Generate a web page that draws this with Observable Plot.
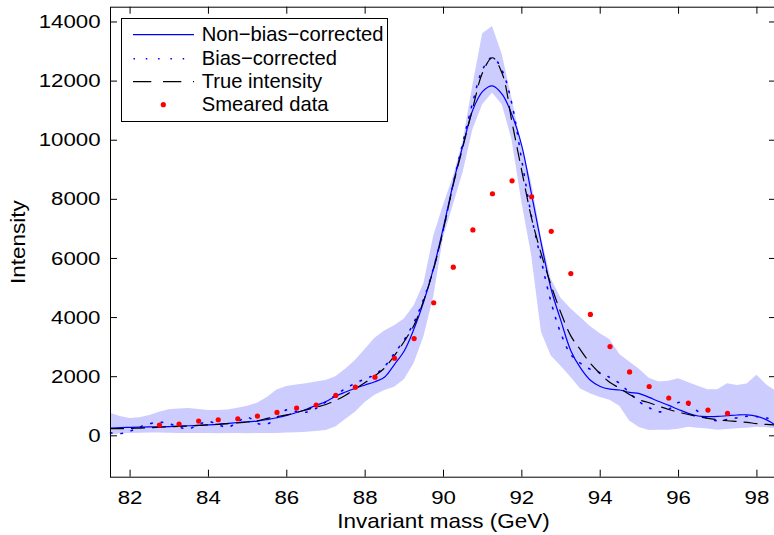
<!DOCTYPE html>
<html>
<head>
<meta charset="utf-8">
<script src="https://cdn.jsdelivr.net/npm/d3@7"></script>
<script src="https://cdn.jsdelivr.net/npm/@observablehq/plot@0.6"></script>
<style>
  html, body { margin: 0; padding: 0; background: #fff; }
  #wrap { position: relative; width: 774px; height: 535px; overflow: hidden; font-family: "Liberation Sans", Arial, Helvetica, sans-serif; }
  #legend { position: absolute; left: 121px; top: 18px; width: 265px; height: 98px; border: 1px solid #000; background: #fff; padding-top: 4.3px; box-sizing: content-box; }
  .row { display: flex; align-items: center; height: 23.33px; }
  .row svg { margin-left: 11px; flex: none; }
  .row span { margin-left: 7.7px; font-size: 20.2px; line-height: 23px; color: #000; white-space: nowrap; }
</style>
</head>
<body>
<div id="wrap">
  <div id="chart"></div>
  <div id="legend"></div>
</div>
<script>
// ---------------- data ----------------
const mass = [81.5,81.75,82,82.25,82.5,82.75,83,83.25,83.5,83.75,84,84.25,84.5,84.75,85,85.25,85.5,85.75,86,86.25,86.5,86.75,87,87.25,87.5,87.75,88,88.25,88.5,88.75,89,89.25,89.5,89.75,90,90.25,90.5,90.75,91,91.25,91.5,91.75,92,92.25,92.5,92.75,93,93.25,93.5,93.75,94,94.25,94.5,94.75,95,95.25,95.5,95.75,96,96.25,96.5,96.75,97,97.25,97.5,97.75,98,98.25,98.5];

const nonBiasCorrected = [264,275,285,292,300,305,312,325,340,355,370,390,420,450,475,500,550,610,690,790,900,1030,1160,1340,1480,1610,1720,1830,1990,2420,2880,3630,4560,5690,7070,8550,9850,11030,11650,11840,11550,10850,9800,8150,6480,4950,3880,2880,2290,1880,1670,1580,1550,1470,1430,1300,1160,1030,890,760,670,650,655,680,705,710,660,540,340];

const biasCorrected = [100,75,160,300,410,460,410,290,240,380,490,370,290,480,630,420,400,620,880,820,800,930,1150,1380,1600,1780,1930,2070,2350,2800,3250,3850,4650,5700,7000,8550,9950,11300,12400,12800,12350,11200,9300,7400,5900,4500,3450,2750,2450,2250,2130,1970,1770,1450,1150,950,810,900,1130,1050,820,580,510,560,610,660,650,600,520];

const trueIntensity = [240,245,250,262,275,290,305,320,335,352,370,390,412,438,468,505,590,650,710,790,880,970,1060,1200,1370,1590,1800,2030,2300,2720,3200,3750,4600,5650,7000,8500,9800,11100,12300,12790,12250,10600,8950,7350,6130,5080,4150,3380,2900,2450,2100,1800,1610,1400,1220,1120,1000,890,800,720,650,590,545,510,485,455,412,385,365];

const bandLower = [30,70,80,90,95,95,90,80,75,75,75,70,75,75,70,75,75,80,95,105,120,150,180,300,550,800,1130,1370,1530,1640,1900,2450,3350,4700,6700,7800,8900,10350,11200,11600,11200,10000,7900,6100,3500,2700,2350,1980,1580,1420,1300,1200,1000,500,280,180,190,185,220,290,260,230,190,210,240,260,290,270,240];

const bandUpper = [760,650,590,610,690,800,880,910,920,890,860,860,870,930,1000,1100,1300,1550,1670,1720,1760,1820,1870,2000,2250,2550,2920,3300,3550,3720,3950,4400,5150,6750,7800,8750,9950,11850,13600,13850,12900,11400,9800,8550,6700,5300,4650,4300,4000,3700,3450,3250,2750,2500,2250,1950,1820,1850,1930,1800,1680,1560,1560,1760,1700,1750,2050,1720,1500];

const smearedMass = [82.75,83.25,83.75,84.25,84.75,85.25,85.75,86.25,86.75,87.25,87.75,88.25,88.75,89.25,89.75,90.25,90.75,91.25,91.75,92.25,92.75,93.25,93.75,94.25,94.75,95.25,95.75,96.25,96.75,97.25];
const smearedData = [364,398,499,543,577,668,792,938,1039,1366,1646,1983,2624,3290,4502,5704,6964,8189,8627,8088,6918,5490,4108,3018,2160,1669,1280,1106,870,760];

const xTicks = [82,84,86,88,90,92,94,96,98];
const yTicks = [0,2000,4000,6000,8000,10000,12000,14000];

const seriesNames = ["Non\u2212bias\u2212corrected","Bias\u2212corrected","True intensity","Smeared data"];
const xLabel = "Invariant mass (GeV)";
const yLabel = "Intensity";

// ---------------- tables ----------------
const curves = mass.map((m, i) => ({
  mass: m, nonBias: nonBiasCorrected[i], bias: biasCorrected[i],
  truth: trueIntensity[i], lo: bandLower[i], hi: bandUpper[i]
}));
const smeared = smearedMass.map((m, i) => ({mass: m, value: smearedData[i]}));

// ---------------- layout ----------------
const W = 774, H = 535;
const mL = 110, mR = -2, mT = 6.7, mB = 58.3;
const innerW = W - mL - mR, innerH = H - mT - mB;
const tick = 7;
const font = "'Liberation Sans', Arial, Helvetica, sans-serif";

const chart = Plot.plot({
  width: W, height: H,
  marginLeft: mL, marginRight: mR, marginTop: mT, marginBottom: mB,
  style: {fontFamily: font, fontSize: "19px", color: "#000", background: "transparent", overflow: "visible"},
  x: {domain: [81.5, 98.5]},
  y: {domain: [-1400, 14500]},
  marks: [
    Plot.areaY(curves, {x: "mass", y1: "lo", y2: "hi", fill: "rgb(204,204,255)", fillOpacity: 1}),
    Plot.line(curves, {x: "mass", y: "nonBias", stroke: "#0000ff", strokeWidth: 1.2, curve: "catmull-rom"}),
    Plot.line(curves, {x: "mass", y: "bias", stroke: "#0000ff", strokeWidth: 1.6, strokeDasharray: "1.5,9", curve: "catmull-rom"}),
    Plot.line(curves, {x: "mass", y: "truth", stroke: "#000", strokeWidth: 1.2, strokeDasharray: "13,8", curve: "catmull-rom"}),
    Plot.dot(smeared, {x: "mass", y: "value", r: 2.6, fill: "#ff0000", stroke: "none"}),
    Plot.frame({stroke: "#000", strokeWidth: 1}),
    // inward ticks (bottom, top, left, right)
    Plot.tickX(xTicks, {x: d => d, insetTop: innerH - tick, stroke: "#000", strokeWidth: 1}),
    Plot.tickX(xTicks, {x: d => d, insetBottom: innerH - tick, stroke: "#000", strokeWidth: 1}),
    Plot.tickY(yTicks, {y: d => d, insetRight: innerW - tick, stroke: "#000", strokeWidth: 1}),
    Plot.tickY(yTicks, {y: d => d, insetLeft: innerW - tick, stroke: "#000", strokeWidth: 1}),
    Plot.axisX({ticks: xTicks, tickSize: 0, tickPadding: 13, tickFormat: d => String(d), label: null, fontSize: 19, fill: "#000"}),
    Plot.axisY({ticks: yTicks, tickSize: 0, tickPadding: 10, tickFormat: d => String(d), label: null, fontSize: 19, fill: "#000"}),
    Plot.text([xLabel], {text: d => d, frameAnchor: "bottom", textAnchor: "middle", dy: 50.5, fontSize: 21, fill: "#000"}),
    Plot.text([yLabel], {text: d => d, frameAnchor: "left", textAnchor: "middle", rotate: -90, dx: -92.5, fontSize: 21, fill: "#000"})
  ]
});
document.getElementById("chart").appendChild(chart);

// widen the axis lettering along its reading direction, as in the reference
function stretch(el, s) {
  const len = el.getComputedTextLength();
  if (len > 0) {
    el.setAttribute("textLength", (len * s).toFixed(2));
    el.setAttribute("lengthAdjust", "spacingAndGlyphs");
  }
}
chart.querySelectorAll('g[aria-label="x-axis tick label"] text, g[aria-label="y-axis tick label"] text')
  .forEach(el => stretch(el, 1.17));
chart.querySelectorAll("text").forEach(el => {
  if (el.textContent === xLabel || el.textContent === yLabel) stretch(el, 1.07);
});

// ---------------- legend ----------------
const samples = [
  `<line x1="0" x2="61" y1="11.7" y2="11.7" stroke="#0000ff" stroke-width="1.2"/>`,
  `<line x1="0.5" x2="62" y1="11.7" y2="11.7" stroke="#0000ff" stroke-width="1.6" stroke-dasharray="1.5,10.8"/>`,
  `<line x1="0" x2="61" y1="11.7" y2="11.7" stroke="#000" stroke-width="1.2" stroke-dasharray="18.3,11.7"/>`,
  `<circle cx="30.3" cy="11.7" r="2.6" fill="#ff0000"/>`
];
const legend = document.getElementById("legend");
legend.innerHTML = seriesNames.map((name, i) =>
  `<div class="row"><svg width="61" height="23.33">${samples[i]}</svg><span>${name}</span></div>`
).join("");
</script>
</body>
</html>
